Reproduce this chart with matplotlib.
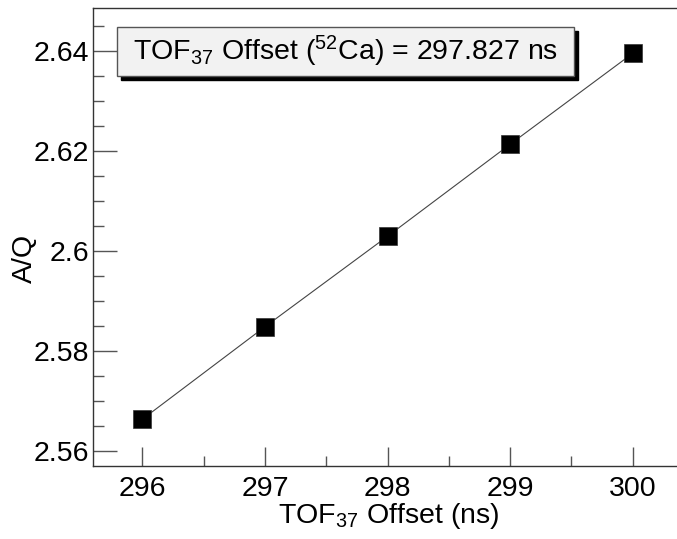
import matplotlib
matplotlib.use("Agg")
import matplotlib.pyplot as plt
from matplotlib.ticker import MultipleLocator, FuncFormatter
from matplotlib.patches import Rectangle

plt.rcParams['font.family'] = ['Liberation Sans', 'DejaVu Sans']
plt.rcParams['mathtext.default'] = 'regular'

# TOF37 offset scan and resulting A/Q of 52Ca
tof_offset = [296, 297, 298, 299, 300]
a_over_q = [2.5664, 2.5849, 2.6030, 2.6214, 2.6396]
fit_offset = 297.827
y_ticks = [2.56, 2.58, 2.60, 2.62, 2.64]

fig = plt.figure(figsize=(6.77, 5.39), dpi=100)
ax = fig.add_axes([93 / 677, 1 - 466 / 539, 1 - 93 / 677, (466 - 8) / 539])

ax.plot(tof_offset, a_over_q, '-', color='#444444', lw=0.8, zorder=2)
ax.plot(tof_offset, a_over_q, 's', color='black', markersize=12.6,
        markeredgecolor='#333333', markeredgewidth=0.5, zorder=3)

ax.set_xlim(295.598, 300.361)
ax.set_ylim(2.55706, 2.64866)

ax.xaxis.set_major_locator(MultipleLocator(1))
ax.xaxis.set_minor_locator(MultipleLocator(0.5))
ax.set_yticks(y_ticks)
ax.yaxis.set_minor_locator(MultipleLocator(0.005))
ax.yaxis.set_major_formatter(FuncFormatter(lambda v, p: '%g' % round(v, 3)))

ax.tick_params(axis='both', which='both', direction='in', colors='#555555',
               labelcolor='black', labelsize=20.5)
ax.tick_params(axis='x', which='major', length=14, width=1, pad=7)
ax.tick_params(axis='x', which='minor', length=7, width=1)
ax.tick_params(axis='y', which='major', length=17, width=1, pad=3)
ax.tick_params(axis='y', which='minor', length=8, width=1)
ax.tick_params(top=False, right=False, which='both')

for s in ['left', 'bottom', 'top']:
    ax.spines[s].set_color('#333333')
    ax.spines[s].set_linewidth(1)
ax.spines['right'].set_visible(False)

fig.text(389 / 677, 1 - 516 / 539, r'TOF$_{37}$ Offset (ns)', fontsize=20.5,
         ha='center', va='center')
fig.text(25 / 677, 1 - 258 / 539, 'A/Q', fontsize=20.5, rotation=90,
         ha='center', va='center')

# label box with drop shadow
x0, y0, x1, y1 = 117, 27, 574, 76
fig.patches.append(Rectangle(((x0 + 4) / 677, 1 - (y1 + 4) / 539),
                             (x1 - x0) / 677, (y1 - y0) / 539,
                             transform=fig.transFigure, color='black', zorder=4))
fig.patches.append(Rectangle((x0 / 677, 1 - y1 / 539), (x1 - x0) / 677,
                             (y1 - y0) / 539, transform=fig.transFigure,
                             facecolor='#f2f2f2', edgecolor='#555555', lw=1,
                             zorder=5))
fig.text((x0 + x1) / 2 / 677, 1 - (y0 + y1) / 2 / 539,
         r'TOF$_{37}$ Offset ($^{52}$Ca) = %.3f ns' % fit_offset,
         fontsize=20.5, ha='center', va='center', zorder=6)

fig.savefig('out.png', dpi=100)
